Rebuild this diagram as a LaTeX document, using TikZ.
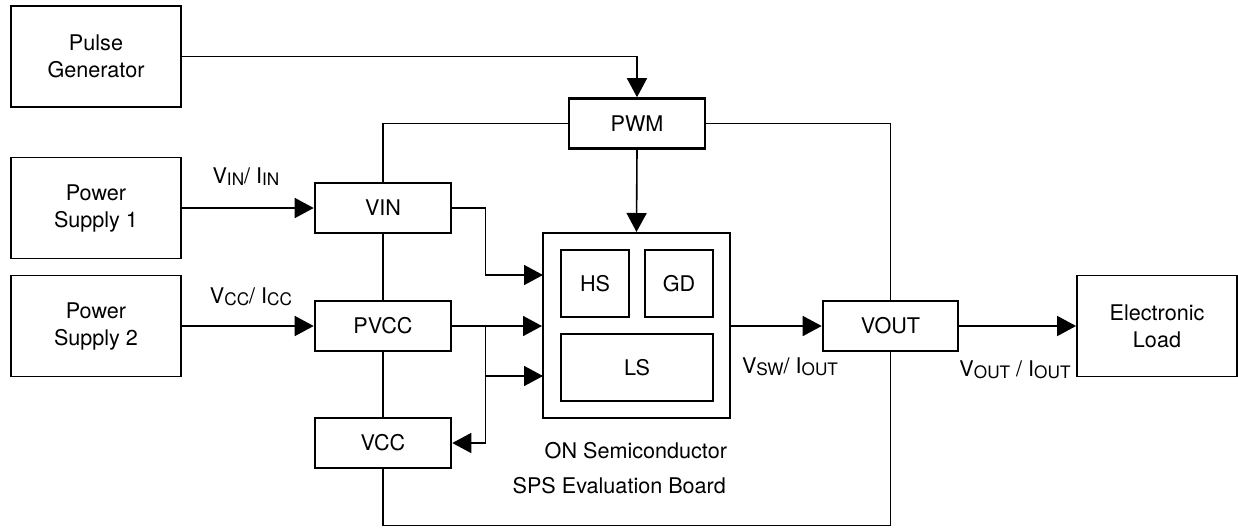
\documentclass[tikz,border=0pt]{standalone}
\usepackage{fontspec}
\setmainfont{TeX Gyre Heros}
\usetikzlibrary{arrows.meta}
\newcommand{\sub}[1]{\raisebox{-1pt}{\fontsize{8.6}{10}\selectfont #1}}
\begin{document}
\begin{tikzpicture}[x=0.5pt,y=-0.5pt,font=\fontsize{10.8}{13.5}\selectfont,line join=miter,
		>={Triangle[length=9.5pt,width=10pt]},
		unit/.style={draw,line width=0.9pt,minimum width=85pt,minimum height=50.5pt,align=center,inner sep=0pt},
		pin/.style={draw,line width=1.3pt,minimum width=68pt,minimum height=25pt,inner sep=0pt},
		part/.style={draw,line width=1pt,inner sep=0pt},
		wire/.style={line width=0.8pt}]
	\useasboundingbox (0,0) rectangle (1238,527);
	
	\node[unit] (pulse) at (96,56.5) {Pulse\\Generator};
	\node[unit] (ps1) at (96,208) {Power\\Supply 1};
	\node[unit] (ps2) at (96,326) {Power\\Supply 2};
	\node[unit,minimum width=80pt] (load) at (1157,326) {Electronic\\Load};
	
	\node[pin] (pwm) at (637,123.5) {PWM};
	\node[pin] (vin) at (383,208) {VIN};
	\node[pin] (pvcc) at (383,326) {PVCC};
	\node[pin] (vcc) at (383,443) {VCC};
	\node[pin,minimum width=67.5pt] (vout) at (890.5,326) {VOUT};
	
	\node[part,minimum width=93.5pt,minimum height=92.5pt] (chip) at (636.5,325.5) {};
	\node[part,minimum width=34pt,minimum height=33.5pt] (hs) at (595,283.5) {HS};
	\node[part,minimum width=34pt,minimum height=33.5pt] (gd) at (679,283.5) {GD};
	\node[part,minimum width=76pt,minimum height=33.5pt] (ls) at (637,367.5) {LS};
	\coordinate (chipA) at (543,275);
	\coordinate (chipB) at (543,376);
	
	\draw[wire,->] (pulse.east) -| (pwm.north);
	\draw[wire] (pwm.west) -| (vin.north);
	\draw[wire] (pwm.east) -| (vout.north);
	\draw[wire,->] (pwm.south) -- (chip.north);
	\draw[wire,->] (ps1.east) -- (vin.west);
	\draw[wire,->] (ps2.east) -- (pvcc.west);
	\draw[wire] (vin.south) -- (pvcc.north);
	\draw[wire] (pvcc.south) -- (vcc.north);
	\draw[wire,->] (vin.east) -- ++(33,0) |- (chipA);
	\draw[wire,->] (pvcc.east) -- (pvcc.east -| chip.west);
	\draw[wire,->] (pvcc.east) -- ++(33,0) |- (chipB);
	\draw[wire,->] (pvcc.east) -- ++(33,0) |- (vcc.east);
	\draw[wire] (vcc.south) -- ++(0,56) -| (vout.south);
	\draw[wire,->] (chip.east |- vout.west) -- (vout.west);
	\draw[wire,->] (vout.east) -- (load.west);
	
	\node (lin) at (246,177) {V\sub{IN}/ I\sub{IN}};
	\node (lcc) at (251,297) {V\sub{CC}/ I\sub{CC}};
	\node (lsw) at (790,367) {V\sub{SW}/ I\sub{OUT}};
	\node (lout) at (1015,370) {V\sub{OUT} / I\sub{OUT}};
	\node[anchor=east] (maker) at (734,451) {ON Semiconductor};
	\node[anchor=east] (board) at (733,486) {SPS Evaluation Board};
\end{tikzpicture}
\end{document}
